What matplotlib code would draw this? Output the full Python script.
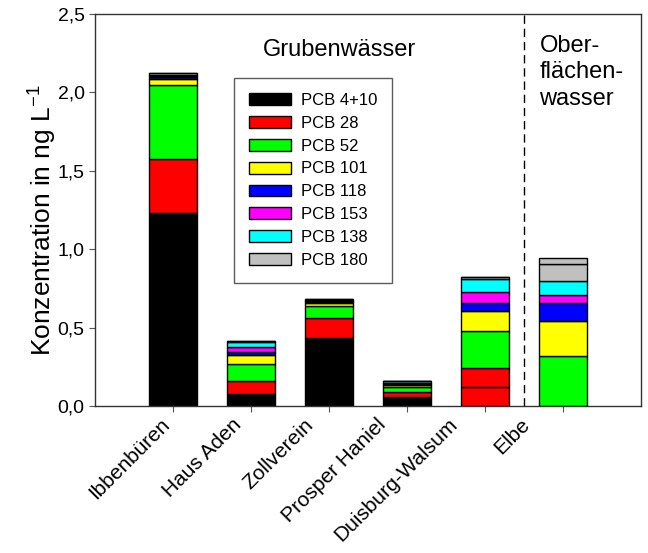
import matplotlib
matplotlib.use("Agg")
import matplotlib.pyplot as plt
import numpy as np
from matplotlib.ticker import FuncFormatter

plt.rcParams['font.family'] = ['Liberation Sans', 'DejaVu Sans']
plt.rcParams['mathtext.default'] = 'regular'

sites = ["Ibbenbüren", "Haus Aden", "Zollverein", "Prosper Haniel", "Duisburg-Walsum", "Elbe"]
series_names = ["PCB 4+10", "PCB 28", "PCB 52", "PCB 101", "PCB 118", "PCB 153", "PCB 138", "PCB 180"]
series_colors = ["#000000", "#ff0000", "#00ff00", "#ffff00", "#0000ff", "#ff00ff", "#00ffff", "#c0c0c0"]

pcb_4_10 = [1.231, 0.082, 0.434, 0.058, 0.121, 0.0]
pcb_28   = [0.344, 0.080, 0.130, 0.032, 0.126, 0.0]
pcb_52   = [0.472, 0.111, 0.076, 0.034, 0.232, 0.320]
pcb_101  = [0.042, 0.055, 0.017, 0.013, 0.129, 0.225]
pcb_118  = [0.008, 0.019, 0.008, 0.007, 0.051, 0.114]
pcb_153  = [0.008, 0.034, 0.006, 0.007, 0.070, 0.048]
pcb_138  = [0.008, 0.030, 0.008, 0.008, 0.083, 0.092]
pcb_180  = [0.008, 0.006, 0.004, 0.005, 0.015, 0.111]
extra_top = [0.0, 0.0, 0.0, 0.0, 0.0, 0.034]   # additional grey segment on top of Elbe

series = [pcb_4_10, pcb_28, pcb_52, pcb_101, pcb_118, pcb_153, pcb_138, pcb_180]

fig = plt.figure(figsize=(6.48, 5.53), dpi=100)
ax = fig.add_axes([0.1466, 0.265, 0.8424, 0.7097])

x = np.arange(len(sites))
width = 0.62
bottom = np.zeros(len(sites))
handles = []
for i, (name, vals, col) in enumerate(zip(series_names, series, series_colors)):
    vals = np.array(vals)
    cols = [col] * len(sites)
    if i == 0:
        cols[4] = "#ff0000"  # Duisburg-Walsum lowest segment shown in red in the original
    ax.bar(x, vals, width, bottom=bottom, color=cols, edgecolor="black", linewidth=1.0)
    handles.append(plt.Rectangle((0, 0), 1, 1, facecolor=col, edgecolor="black", linewidth=1.0))
    bottom += vals
ax.bar(x, extra_top, width, bottom=bottom, color="#c0c0c0", edgecolor="black", linewidth=1.0)

ax.set_xlim(-1, 6)
ax.set_ylim(0, 2.5)
ax.set_yticks([0, 0.5, 1.0, 1.5, 2.0, 2.5])
ax.yaxis.set_major_formatter(FuncFormatter(lambda v, p: f"{v:.1f}".replace(".", ",")))
ax.set_xticks(x)
ax.set_xticklabels([])
for i, name in enumerate(sites):
    dx_px = -13 - 6 * i
    ax.annotate(name, xy=(x[i], 0), xycoords=("data", "axes fraction"),
                xytext=(dx_px * 0.72, -4.5 * 0.72 - 3), textcoords="offset points",
                rotation=45, ha="right", va="top", rotation_mode="anchor",
                fontsize=15, annotation_clip=False)
ax.tick_params(axis="y", labelsize=14, direction="out", length=4, color="#555555")
ax.tick_params(axis="x", direction="out", length=4, color="#555555")
for s in ax.spines.values():
    s.set_color("#333333")
    s.set_linewidth(1.0)

ax.set_ylabel("Konzentration in ng L$^{-1}$", fontsize=19)
ax.yaxis.set_label_coords(-0.066, 0.475)

ax.axvline(4.5, color="black", linestyle=(0, (6, 3.5)), linewidth=1.0)

ax.text(2.14, 2.27, "Grubenwässer", fontsize=17, ha="center", va="center")
ax.text(4.7, 2.365, "Ober-\nflächen-\nwasser", fontsize=17, ha="left", va="top", linespacing=1.25)

leg = ax.legend(handles, series_names, loc="upper left", bbox_to_anchor=(0.2546, 0.837),
                borderaxespad=0, fontsize=12, frameon=True, fancybox=False,
                handlelength=2.5, handleheight=0.72, labelspacing=0.47,
                handletextpad=0.6, borderpad=0.9)
leg.get_frame().set_edgecolor("#333333")
leg.get_frame().set_linewidth(1.0)

fig.savefig("out.png", dpi=100)
